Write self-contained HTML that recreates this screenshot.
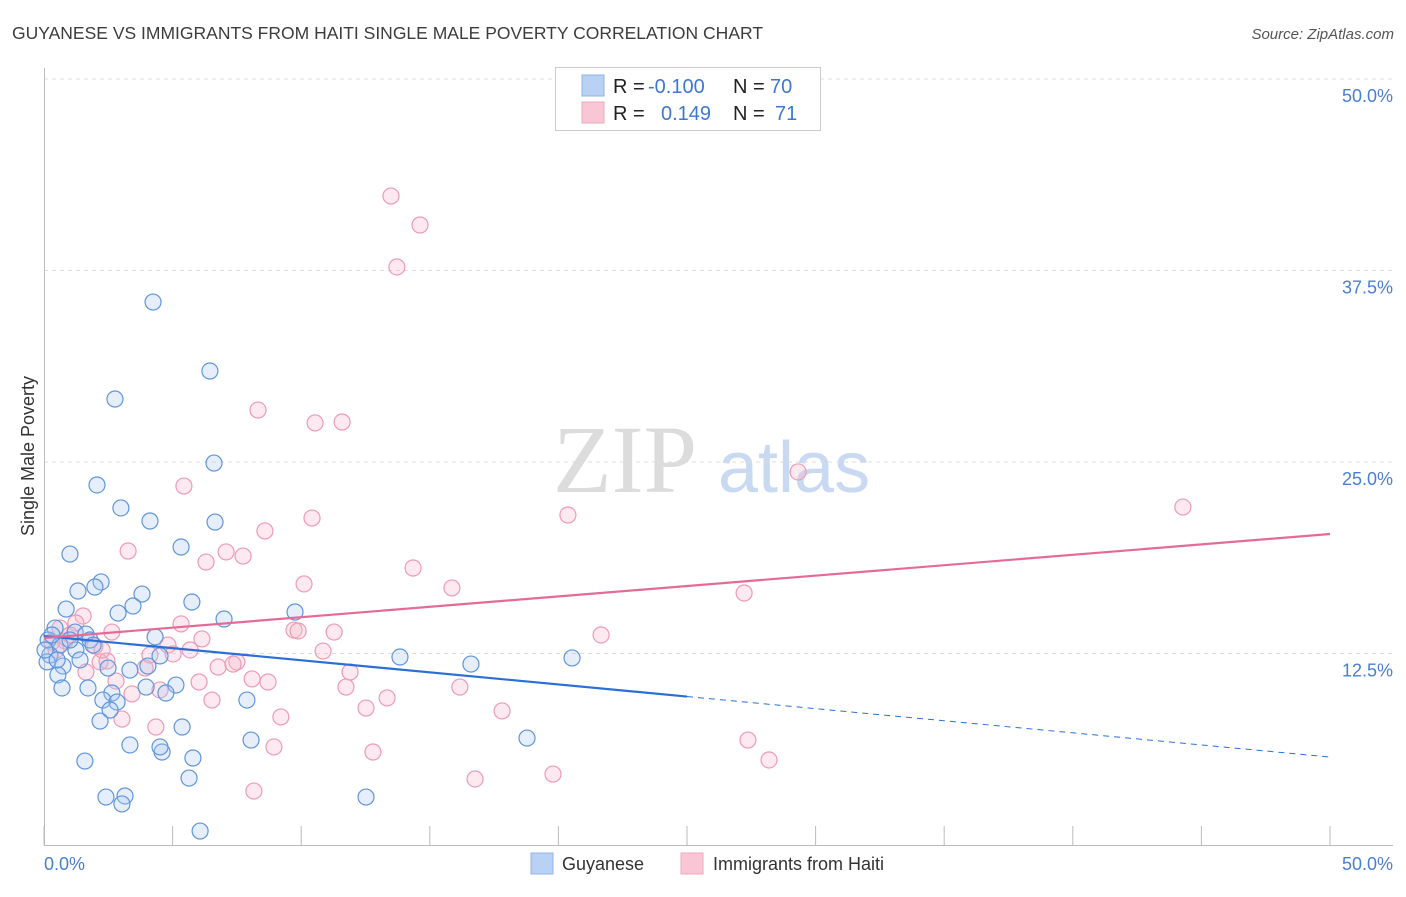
<!DOCTYPE html>
<html><head><meta charset="utf-8">
<style>
body{margin:0;background:#fff;font-family:"Liberation Sans",sans-serif;}
svg text{font-family:"Liberation Sans",sans-serif;}
</style></head>
<body>
<svg id="chart" width="1406" height="892">
<text x="12" y="39" font-size="17.5" fill="#3c3c3c">GUYANESE VS IMMIGRANTS FROM HAITI SINGLE MALE POVERTY CORRELATION CHART</text>
<text x="1394" y="39" font-size="15" fill="#555" font-style="italic" text-anchor="end">Source: ZipAtlas.com</text>
<g>
<text x="553" y="492" font-size="96" fill="#dcdcdc" font-family="Liberation Serif,serif" style="font-family:'Liberation Serif',serif">ZIP</text>
<text x="718" y="492" font-size="72" fill="#c8d9f1">atlas</text>
</g>
<g id="grid"></g>
<g id="axes"></g>
<g id="pts"></g>
<g id="trends"></g>
<text transform="translate(34,456) rotate(-90)" font-size="18" fill="#333" text-anchor="middle">Single Male Poverty</text>
<g>
<rect x="555.5" y="67.5" width="265" height="63" fill="#fff" stroke="#ccc"/>
<rect x="582" y="75" width="22" height="21" fill="#b9d1f3" stroke="#8fb3e8"/>
<rect x="582" y="102" width="22" height="21" fill="#f9c6d5" stroke="#f0a8be"/>
<text x="613" y="93" font-size="20" fill="#222">R = </text><text x="648" y="93" font-size="20" fill="#3e78d0">-0.100</text>
<text x="733" y="93" font-size="20" fill="#222">N = </text><text x="770" y="93" font-size="20" fill="#3e78d0">70</text>
<text x="613" y="120" font-size="20" fill="#222">R = </text><text x="661" y="120" font-size="20" fill="#3e78d0">0.149</text>
<text x="733" y="120" font-size="20" fill="#222">N = </text><text x="775" y="120" font-size="20" fill="#3e78d0">71</text>
</g>
<g>
<rect x="531" y="853" width="22" height="21" fill="#b9d1f3" stroke="#8fb3e8"/>
<text x="562" y="870" font-size="18" fill="#333">Guyanese</text>
<rect x="681" y="853" width="22" height="21" fill="#f9c6d5" stroke="#f0a8be"/>
<text x="713" y="870" font-size="18" fill="#333">Immigrants from Haiti</text>
</g>
</svg>
<script>
const yTicks=[12.5,25,37.5,50];
const yTickLabels=["12.5%","25.0%","37.5%","50.0%"];
const xTicks=[0,5,10,15,20,25,30,35,40,45,50];
const xTickLabels=["0.0%","50.0%"];
const blueX=[4.24,6.45,2.76,6.61,2.06,2.99,4.12,6.65,5.33,1.01,1.32,2.22,1.98,3.81,3.46,0.86,2.88,5.75,7.00,9.76,0.43,1.21,1.63,1.79,4.32,0.16,0.62,1.24,1.91,0.23,1.40,2.49,3.34,4.04,4.51,0.12,0.74,0.54,0.70,1.71,2.64,3.97,5.13,4.74,2.29,2.84,7.89,2.57,2.18,5.37,13.84,16.60,20.53,3.34,4.59,4.51,8.05,18.78,1.59,5.79,5.64,2.41,3.15,3.03,12.52,6.07,0.04,0.31,1.01,0.51];
const blueY=[35.44,30.94,29.11,24.93,23.50,22.00,21.15,21.08,19.45,18.99,16.58,17.17,16.84,16.38,15.60,15.40,15.14,15.86,14.75,15.21,14.16,13.90,13.77,13.38,13.58,13.38,13.05,12.73,13.05,12.40,12.08,11.55,11.42,11.68,12.34,11.95,11.68,11.10,10.25,10.25,9.92,10.31,10.44,9.92,9.46,9.33,9.46,8.81,8.09,7.70,12.27,11.81,12.21,6.53,6.07,6.40,6.85,6.98,5.48,5.68,4.37,3.13,3.20,2.68,3.13,0.91,12.73,13.71,13.38,12.08];
const pinkX=[13.49,14.62,13.72,8.32,10.54,11.59,29.32,5.44,44.28,10.42,20.37,8.59,3.27,7.08,7.74,6.30,14.35,10.11,15.86,27.22,1.52,1.24,5.33,2.64,9.72,9.88,11.28,21.66,0.62,0.82,1.98,6.14,4.82,5.68,4.12,5.02,10.85,0.31,2.18,2.45,7.50,6.77,7.35,11.90,3.93,8.09,8.71,2.80,6.03,1.63,11.74,16.17,3.42,4.51,6.53,13.34,12.52,17.81,9.21,3.03,4.35,27.37,8.94,12.79,28.19,19.79,16.76,8.16,1.01,0.47,2.26];
const pinkY=[42.36,40.47,37.73,28.39,27.55,27.61,24.35,23.43,22.06,21.34,21.54,20.50,19.19,19.13,18.86,18.47,18.08,17.04,16.78,16.45,14.95,14.49,14.43,13.90,14.03,13.97,13.90,13.71,14.16,13.32,12.99,13.45,13.05,12.73,12.40,12.47,12.66,13.25,11.95,12.01,11.95,11.62,11.81,11.29,11.55,10.84,10.64,10.70,10.64,11.29,10.31,10.31,9.86,10.12,9.46,9.60,8.94,8.75,8.36,8.22,7.70,6.85,6.40,6.07,5.55,4.63,4.31,3.52,13.71,12.73,12.73];
const blueTrend=[13.64,5.74]; const blueSolidEnd=25;
const pinkTrend=[13.51,20.3];
const X=v=>44+v*25.72, Y=v=>845-v*15.32;
const NS="http://www.w3.org/2000/svg";
function mk(p,t,a){const e=document.createElementNS(NS,t);for(const k in a)e.setAttribute(k,a[k]);p.appendChild(e);return e;}
const grid=document.getElementById('grid'),axes=document.getElementById('axes'),pts=document.getElementById('pts'),tr=document.getElementById('trends');
yTicks.forEach((t,i)=>{const l=mk(grid,'line',{x1:44,x2:1393,y1:Y(t),y2:Y(t),stroke:'#ddd','stroke-dasharray':'4,4'});


const tx=mk(axes,'text',{x:1393,y:Y(t)+23,'font-size':18,fill:'#4a7fd0','text-anchor':'end'});tx.textContent=yTickLabels[i];

});
mk(axes,'line',{x1:44.5,x2:44.5,y1:68,y2:845,stroke:'#bbb'});
mk(axes,'line',{x1:44,x2:1393,y1:845.5,y2:845.5,stroke:'#bbb'});
xTicks.forEach(t=>{const l=mk(axes,'line',{x1:X(t),x2:X(t),y1:826,y2:845,stroke:'#bbb'});

});
const xl0=mk(axes,'text',{x:44,y:870,'font-size':18,fill:'#4a7fd0'});xl0.textContent=xTickLabels[0];


const xl1=mk(axes,'text',{x:1393,y:870,'font-size':18,fill:'#4a7fd0','text-anchor':'end'});xl1.textContent=xTickLabels[1];


function dots(xs,ys,fill,stroke,name){xs.forEach((v,i)=>{const c=mk(pts,'circle',{cx:X(v),cy:Y(ys[i]),r:8,fill:fill,'fill-opacity':0.3,stroke:stroke,'stroke-width':1.2});

});}
dots(pinkX,pinkY,'#f7b6ca','#ee9ab4','haiti-point');
dots(blueX,blueY,'#a9c6f0','#5f95dd','guyanese-point');
const bAt=x=>blueTrend[0]+(blueTrend[1]-blueTrend[0])*x/50;
const b1=mk(tr,'line',{x1:X(0),y1:Y(bAt(0)),x2:X(blueSolidEnd),y2:Y(bAt(blueSolidEnd)),stroke:'#2b6fd6','stroke-width':2.2});


const b2=mk(tr,'line',{x1:X(blueSolidEnd),y1:Y(bAt(blueSolidEnd)),x2:X(50),y2:Y(bAt(50)),stroke:'#2b6fd6','stroke-width':1,'stroke-dasharray':'6,5'});


const p1=mk(tr,'line',{x1:X(0),y1:Y(pinkTrend[0]),x2:X(50),y2:Y(pinkTrend[1]),stroke:'#e46b96','stroke-width':2.2});


</script>
</body></html>
